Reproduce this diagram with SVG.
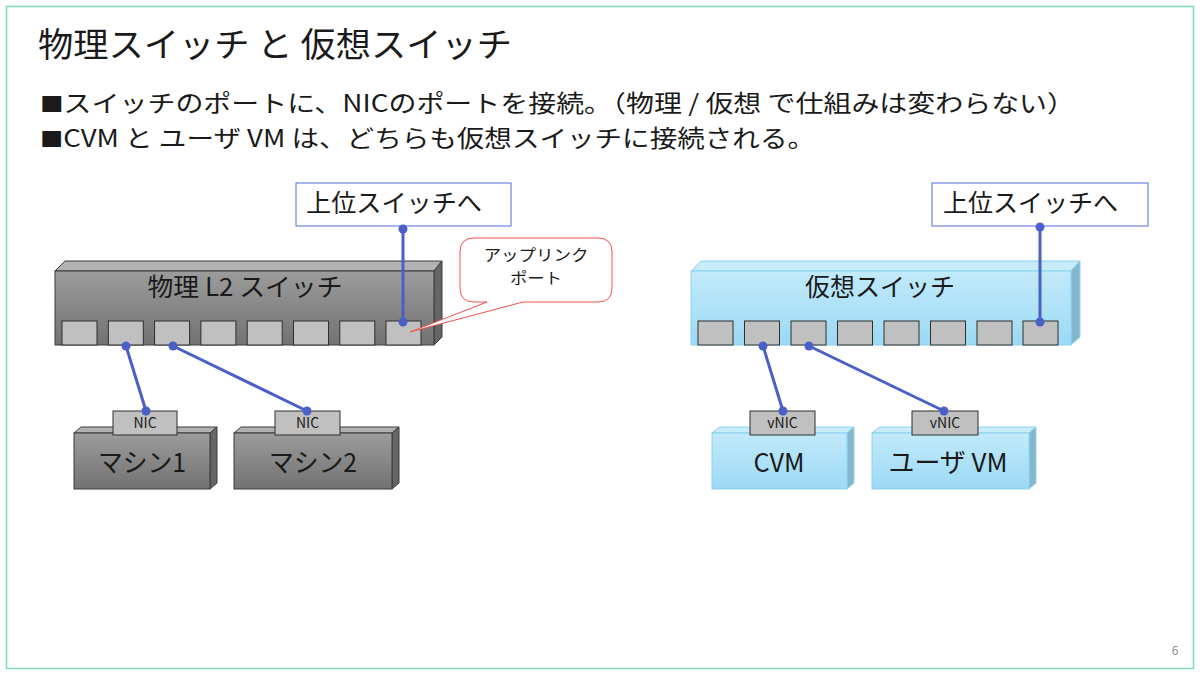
<svg xmlns="http://www.w3.org/2000/svg" width="1200" height="675" viewBox="0 0 1200 675">
  <defs>
    <linearGradient id="gFront" x1="0" y1="0" x2="0" y2="1">
      <stop offset="0" stop-color="#9c9c9c"/>
      <stop offset="1" stop-color="#727272"/>
    </linearGradient>
    <linearGradient id="bFront" x1="0" y1="0" x2="0" y2="1">
      <stop offset="0" stop-color="#c2eafb"/>
      <stop offset="1" stop-color="#9bd9f4"/>
    </linearGradient>
    <style>
      text { font-family: "Noto Sans CJK JP", "Noto Sans", sans-serif; fill: #1a1a1a; }
      .gf { fill: url(#gFront); stroke: #3a3a3a; stroke-width: 1; }
      .gt { fill: #b2b2b2; stroke: #3a3a3a; stroke-width: 1; }
      .gr { fill: #666666; stroke: #3a3a3a; stroke-width: 1; }
      .bf { fill: url(#bFront); stroke: #8ed2ef; stroke-width: 1; }
      .bt { fill: #c8ecfa; stroke: #8ed2ef; stroke-width: 1; }
      .br { fill: #84b7cc; stroke: #8ed2ef; stroke-width: 1; }
      .port { fill: #c0c0c0; stroke: #2e2e2e; stroke-width: 1; }
      .nic { fill: #c0c0c0; stroke: #2e2e2e; stroke-width: 1; }
      .up { fill: #ffffff; stroke: #4f6fd2; stroke-width: 1; }
      .wire { stroke: #4a5fc8; stroke-width: 3; fill: none; }
      .dot { fill: #4a5fc8; }
      .lbl { font-size: 25px; text-anchor: middle; }
      .nt { font-size: 14px; text-anchor: middle; }
    </style>
  </defs>

  <rect x="6.5" y="6.5" width="1187" height="662" fill="#ffffff" stroke="#7fd8c2" stroke-width="1.5"/>

  <g id="title">
    <text x="38" y="57" font-size="34" textLength="474" lengthAdjust="spacingAndGlyphs">物理スイッチ と 仮想スイッチ</text>
  </g>
  <g id="bullets">
    <text x="40" y="112" font-size="23.7" textLength="1035" lengthAdjust="spacingAndGlyphs"><tspan font-size="20">■</tspan>スイッチのポートに、NICのポートを接続。（物理 / 仮想 で仕組みは変わらない）</text>
    <text x="40" y="146.5" font-size="23.7" textLength="775" lengthAdjust="spacingAndGlyphs"><tspan font-size="20">■</tspan>CVM と ユーザ VM は、どちらも仮想スイッチに接続される。</text>
  </g>

  <g id="physical-switch">
    <polygon class="gt" points="55,271 65,261 442,261 434,271"/>
    <polygon class="gr" points="434,271 442,261 442,337 434,345"/>
    <rect class="gf" x="55" y="271" width="379" height="74"/>
    <text class="lbl" x="245" y="296" textLength="195" lengthAdjust="spacingAndGlyphs">物理 L2 スイッチ</text>
    <rect class="port" x="62" y="321" width="35" height="24"/>
    <rect class="port" x="108.3" y="321" width="35" height="24"/>
    <rect class="port" x="154.6" y="321" width="35" height="24"/>
    <rect class="port" x="200.9" y="321" width="35" height="24"/>
    <rect class="port" x="247.2" y="321" width="35" height="24"/>
    <rect class="port" x="293.5" y="321" width="35" height="24"/>
    <rect class="port" x="339.8" y="321" width="35" height="24"/>
    <rect class="port" x="386" y="321" width="35" height="24"/>
  </g>

  <g id="machine1">
    <polygon class="gt" points="74,433 81,427 217,427 210,433"/>
    <polygon class="gr" points="210,433 217,427 217,483 210,489"/>
    <rect class="gf" x="74" y="433" width="136" height="56"/>
    <text x="142" y="472" font-size="26" text-anchor="middle" textLength="88" lengthAdjust="spacingAndGlyphs">マシン1</text>
    <rect class="nic" x="113" y="411" width="64" height="24"/>
    <text class="nt" x="145" y="427.5">NIC</text>
  </g>

  <g id="machine2">
    <polygon class="gt" points="234,433 241,427 399,427 392,433"/>
    <polygon class="gr" points="392,433 399,427 399,483 392,489"/>
    <rect class="gf" x="234" y="433" width="158" height="56"/>
    <text x="313" y="472" font-size="26" text-anchor="middle" textLength="88" lengthAdjust="spacingAndGlyphs">マシン2</text>
    <rect class="nic" x="275" y="411" width="65" height="24"/>
    <text class="nt" x="307.5" y="427.5">NIC</text>
  </g>

  <g id="uplink-left">
    <rect class="up" x="296" y="183" width="215" height="43"/>
    <text x="306" y="212" font-size="25" textLength="176" lengthAdjust="spacingAndGlyphs">上位スイッチへ</text>
  </g>

  <g id="virtual-switch">
    <polygon class="bt" points="691,271 701,261 1080,261 1071,271"/>
    <polygon class="br" points="1071,271 1080,261 1080,337 1071,345"/>
    <rect class="bf" x="691" y="271" width="380" height="74"/>
    <text class="lbl" x="880" y="296" textLength="150" lengthAdjust="spacingAndGlyphs">仮想スイッチ</text>
    <rect class="port" x="698" y="321" width="35" height="24"/>
    <rect class="port" x="744.5" y="321" width="35" height="24"/>
    <rect class="port" x="791" y="321" width="35" height="24"/>
    <rect class="port" x="837.5" y="321" width="35" height="24"/>
    <rect class="port" x="884" y="321" width="35" height="24"/>
    <rect class="port" x="930.5" y="321" width="35" height="24"/>
    <rect class="port" x="977" y="321" width="35" height="24"/>
    <rect class="port" x="1023" y="321" width="35" height="24"/>
  </g>

  <g id="cvm">
    <polygon class="bt" points="712,433 719,427 854,427 847,433"/>
    <polygon class="br" points="847,433 854,427 854,483 847,489"/>
    <rect class="bf" x="712" y="433" width="135" height="56"/>
    <text x="779" y="472" font-size="26" text-anchor="middle" textLength="51" lengthAdjust="spacingAndGlyphs">CVM</text>
    <rect class="nic" x="750" y="411" width="65" height="24"/>
    <text class="nt" x="782.5" y="427.5">vNIC</text>
  </g>

  <g id="user-vm">
    <polygon class="bt" points="872,433 879,427 1036,427 1029,433"/>
    <polygon class="br" points="1029,433 1036,427 1036,483 1029,489"/>
    <rect class="bf" x="872" y="433" width="157" height="56"/>
    <text x="948" y="472" font-size="26" text-anchor="middle" textLength="119" lengthAdjust="spacingAndGlyphs">ユーザ VM</text>
    <rect class="nic" x="912" y="411" width="66" height="24"/>
    <text class="nt" x="945" y="427.5">vNIC</text>
  </g>

  <g id="uplink-right">
    <rect class="up" x="932" y="183" width="216" height="43"/>
    <text x="943" y="212" font-size="25" textLength="175" lengthAdjust="spacingAndGlyphs">上位スイッチへ</text>
  </g>

  <g id="connectors">
    <line class="wire" x1="126" y1="346" x2="146" y2="411"/>
    <line class="wire" x1="173" y1="346" x2="307" y2="411"/>
    <line class="wire" x1="403" y1="229" x2="403" y2="322"/>
    <line class="wire" x1="763" y1="346" x2="783" y2="411"/>
    <line class="wire" x1="809" y1="346" x2="944" y2="411"/>
    <line class="wire" x1="1040" y1="227" x2="1040" y2="322"/>
    <circle class="dot" cx="126" cy="346" r="4.5"/>
    <circle class="dot" cx="146" cy="411" r="4.5"/>
    <circle class="dot" cx="173" cy="346" r="4.5"/>
    <circle class="dot" cx="307" cy="411" r="4.5"/>
    <circle class="dot" cx="403" cy="229" r="4.5"/>
    <circle class="dot" cx="403" cy="322" r="4.5"/>
    <circle class="dot" cx="763" cy="346" r="4.5"/>
    <circle class="dot" cx="783" cy="411" r="4.5"/>
    <circle class="dot" cx="809" cy="346" r="4.5"/>
    <circle class="dot" cx="944" cy="411" r="4.5"/>
    <circle class="dot" cx="1040" cy="227" r="4.5"/>
    <circle class="dot" cx="1040" cy="322" r="4.5"/>
  </g>

  <g id="callout">
    <path d="M474 238 H598 Q612 238 612 252 V288 Q612 302 598 302 H523 L410 332 L487 302 H474 Q460 302 460 288 V252 Q460 238 474 238 Z" fill="#ffffff" stroke="#f0504a" stroke-width="1"/>
    <text x="536" y="261" font-size="15.5" text-anchor="middle" textLength="105" lengthAdjust="spacingAndGlyphs">アップリンク</text>
    <text x="536" y="284" font-size="15.5" text-anchor="middle" textLength="52" lengthAdjust="spacingAndGlyphs">ポート</text>
  </g>

  <text x="1175" y="655" font-size="12" text-anchor="middle" style="fill:#8a8a8a">6</text>
</svg>
